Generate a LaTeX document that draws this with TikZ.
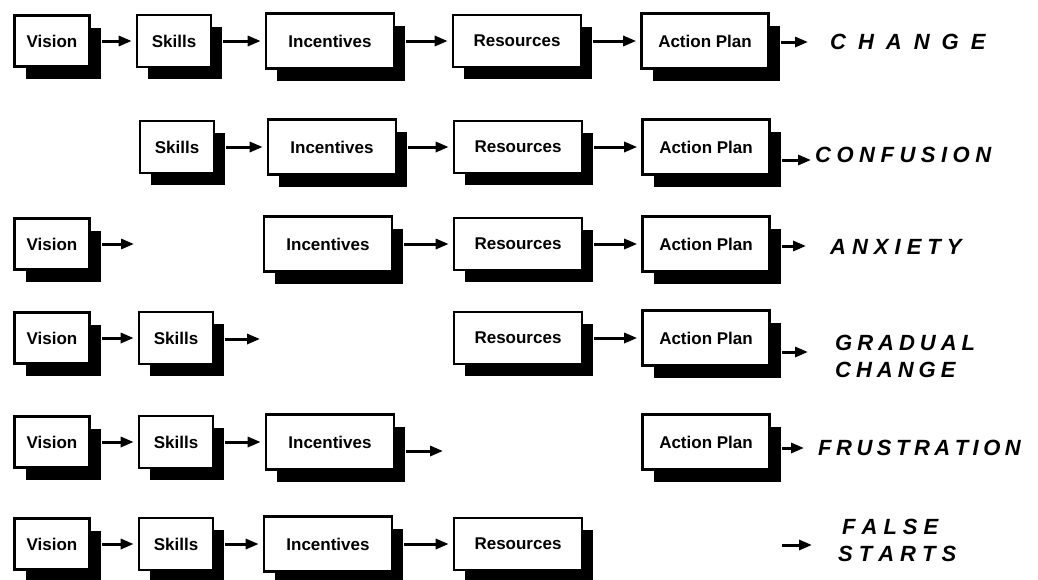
\documentclass[tikz,border=0pt]{standalone}
\usepackage{fontspec}
\setmainfont{Liberation Sans}
\usetikzlibrary{arrows.meta,shadows}

% letter-spaced text: #1 = extra space after each letter, #2 = the word
\makeatletter
\newcommand\spread[2]{\@tfor\sp@c:=#2\do{\sp@c\kern#1}\unkern}
\makeatother

\tikzset{
  stepbox/.style={draw, line width=2.6pt, fill=white, inner sep=0pt,
    font=\bfseries\fontsize{17}{20}\selectfont,
    drop shadow={shadow xshift=11pt, shadow yshift=-12pt, opacity=1, fill=black}},
  vis/.style={stepbox, minimum width=75pt, minimum height=51pt},
  ski/.style={stepbox, minimum width=74pt, minimum height=52pt},
  inc/.style={stepbox, minimum width=128pt, minimum height=55pt},
  res/.style={stepbox, minimum width=128pt, minimum height=52pt},
  act/.style={stepbox, minimum width=127pt, minimum height=55pt},
  arr/.style={line width=3pt, -{Triangle[length=13pt,width=10pt]},
    shorten <=11pt, shorten >=4pt},
  outcome/.style={anchor=west, inner sep=0pt, align=left,
    font=\bfseries\itshape\fontsize{22}{27}\selectfont}
}

\begin{document}
\begin{tikzpicture}[x=1pt, y=-1pt]
\useasboundingbox (0,0) rectangle (1038,579);

% ---- row 1: all five elements -> change
\node[vis] (v1) at (52,41)  {Vision};
\node[ski] (s1) at (174,41) {Skills};
\node[inc] (i1) at (330,41) {Incentives};
\node[res] (r1) at (517,41) {Resources};
\node[act] (a1) at (705,41) {Action Plan};
\coordinate (e1) at (812,42);
\node[outcome] (t1) at (830,42) {\spread{12pt}{CHANGE}};
\draw[arr] (v1) -- (s1);
\draw[arr] (s1) -- (i1);
\draw[arr] (i1) -- (r1);
\draw[arr] (r1) -- (a1);
\draw[arr] (a1.east |- e1) -- (e1);

% ---- row 2: no vision -> confusion
\node[ski] (s2) at (177,147) {Skills};
\node[inc] (i2) at (332,147) {Incentives};
\node[res] (r2) at (518,147) {Resources};
\node[act] (a2) at (706,147) {Action Plan};
\coordinate (e2) at (815,160);
\node[outcome] (t2) at (815,155) {\spread{5.5pt}{CONFUSION}};
\draw[arr] (s2) -- (i2);
\draw[arr] (i2) -- (r2);
\draw[arr] (r2) -- (a2);
\draw[arr] (a2.east |- e2) -- (e2);

% ---- row 3: no skills -> anxiety
\node[vis] (v3) at (52,244)  {Vision};
\node[inc] (i3) at (328,244) {Incentives};
\node[res] (r3) at (518,244) {Resources};
\node[act] (a3) at (706,244) {Action Plan};
\coordinate (d3) at (138,244);
\coordinate (e3) at (810,246);
\node[outcome] (t3) at (830,247) {\spread{6pt}{ANXIETY}};
\draw[arr] (v3) -- (d3);
\draw[arr] (i3) -- (r3);
\draw[arr] (r3) -- (a3);
\draw[arr] (a3.east |- e3) -- (e3);

% ---- row 4: no incentives -> gradual change
\node[vis] (v4) at (52,338)  {Vision};
\node[ski] (s4) at (176,338) {Skills};
\node[res] (r4) at (518,338) {Resources};
\node[act] (a4) at (706,338) {Action Plan};
\coordinate (d4) at (264,339);
\coordinate (e4) at (812,352);
\node[outcome] (t4) at (835,356) {\spread{5pt}{GRADUAL}\\\spread{5pt}{CHANGE}};
\draw[arr] (v4) -- (s4);
\draw[arr] (s4.east |- d4) -- (d4);
\draw[arr] (r4) -- (a4);
\draw[arr] (a4.east |- e4) -- (e4);

% ---- row 5: no resources -> frustration
\node[vis] (v5) at (52,442)  {Vision};
\node[ski] (s5) at (176,442) {Skills};
\node[inc] (i5) at (330,442) {Incentives};
\node[act] (a5) at (706,442) {Action Plan};
\coordinate (d5) at (447,451);
\coordinate (e5) at (808,448);
\node[outcome] (t5) at (818,448) {\spread{4.5pt}{FRUSTRATION}};
\draw[arr] (v5) -- (s5);
\draw[arr] (s5) -- (i5);
\draw[arr] (i5.east |- d5) -- (d5);
\draw[arr] (a5.east |- e5) -- (e5);

% ---- row 6: no action plan -> false starts
\node[vis] (v6) at (52,544)  {Vision};
\node[ski] (s6) at (176,544) {Skills};
\node[inc] (i6) at (328,544) {Incentives};
\node[res] (r6) at (518,544) {Resources};
\coordinate (b6) at (782,545);
\coordinate (e6) at (816,545);
\node[outcome] (t6) at (838,540) {\hspace*{4pt}\spread{6pt}{FALSE}\\\spread{6pt}{STARTS}};
\draw[arr] (v6) -- (s6);
\draw[arr] (s6) -- (i6);
\draw[arr] (i6) -- (r6);
\draw[arr, shorten <=0pt] (b6) -- (e6);
\end{tikzpicture}
\end{document}
